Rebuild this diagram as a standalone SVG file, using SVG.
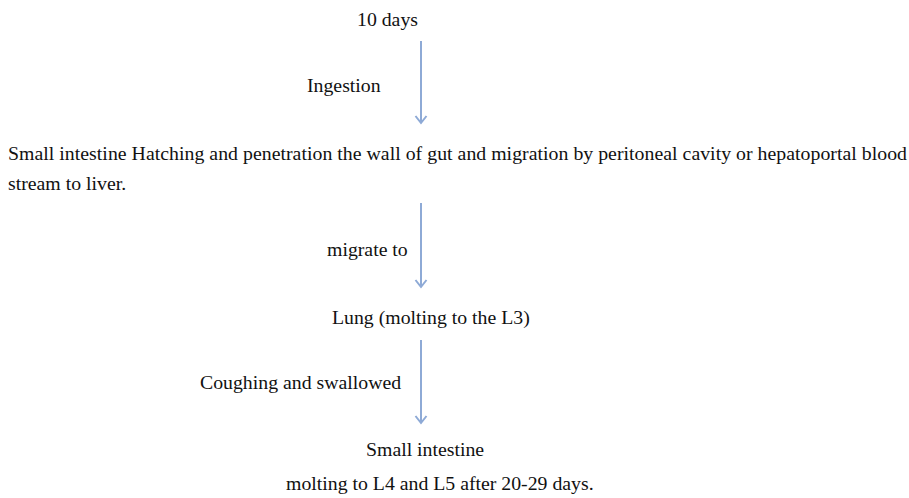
<svg xmlns="http://www.w3.org/2000/svg" width="909" height="498" viewBox="0 0 909 498">
  <style>
    text { font-family: "Liberation Serif", "Times New Roman", serif; font-size: 19.8px; fill: #111; }
    .conn line { stroke: #8eaad6; stroke-width: 2; fill: none; }
  </style>
  <defs>
    <marker id="head" markerWidth="14" markerHeight="14" refX="11" refY="7" orient="auto" markerUnits="userSpaceOnUse" viewBox="0 0 14 14">
      <path d="M4,1.5 L11,7 L4,12.5" fill="none" stroke="#8eaad6" stroke-width="2"/>
    </marker>
  </defs>
  <rect width="909" height="498" fill="#fff"/>

  <g id="n-egg"><text x="357" y="26">10 days</text></g>
  <g id="n-ingestion"><text x="307" y="92">Ingestion</text></g>
  <g id="n-hatching">
    <text x="8" y="160" textLength="899" lengthAdjust="spacing">Small intestine Hatching and penetration the wall of gut and migration by peritoneal cavity or hepatoportal blood</text>
    <text x="8" y="190">stream to liver.</text>
  </g>
  <g id="n-migrate"><text x="327" y="256">migrate to</text></g>
  <g id="n-lung"><text x="332" y="324">Lung (molting to the L3)</text></g>
  <g id="n-cough"><text x="200" y="389">Coughing and swallowed</text></g>
  <g id="n-intestine">
    <text x="366" y="456">Small intestine</text>
    <text x="286" y="490">molting to L4 and L5 after 20-29 days.</text>
  </g>

  <g class="conn">
    <line x1="421" y1="41" x2="421" y2="123" marker-end="url(#head)"/>
    <line x1="421" y1="203" x2="421" y2="287" marker-end="url(#head)"/>
    <line x1="421" y1="340" x2="421" y2="423" marker-end="url(#head)"/>
  </g>
</svg>
